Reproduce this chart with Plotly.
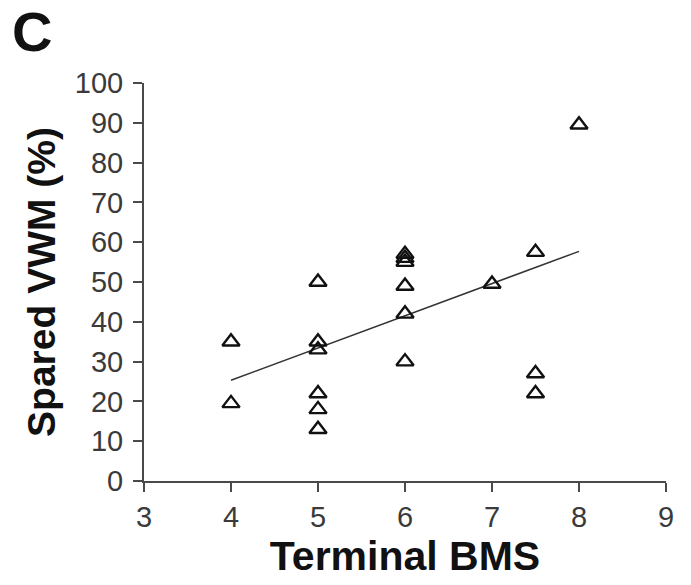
import plotly.graph_objects as go

# Data
bms = [4, 4, 5, 5, 5, 5, 5, 5, 6, 6, 6, 6, 6, 6, 7, 7.5, 7.5, 7.5, 8]
spared_vwm = [35, 19.5, 50, 35, 33, 22, 18, 13, 57, 56, 55, 49, 42, 30, 49.5, 57.5, 27, 22, 89.5]

trend_x = [4, 8]
trend_y = [25.3, 57.7]

x_ticks = [3, 4, 5, 6, 7, 8, 9]
y_ticks = [0, 10, 20, 30, 40, 50, 60, 70, 80, 90, 100]

fig = go.Figure()
fig.add_trace(go.Scatter(
    x=trend_x, y=trend_y, mode="lines",
    line=dict(color="#333333", width=1.5),
    showlegend=False, hoverinfo="skip",
))
fig.add_trace(go.Scatter(
    x=bms, y=spared_vwm, mode="markers",
    marker=dict(symbol="triangle-up-open", size=15,
                color="#111111", line=dict(width=2.4, color="#111111")),
    showlegend=False,
))

axis_common = dict(
    showgrid=False, zeroline=False, showline=True,
    linecolor="#4a4a4a", linewidth=2,
    ticks="outside", ticklen=9, tickwidth=2, tickcolor="#4a4a4a",
    tickfont=dict(family="Liberation Sans, Arial, sans-serif", size=29, color="#3a3a3a"),
)

fig.update_layout(
    width=691, height=585,
    margin=dict(l=144, r=25, t=83, b=104),
    plot_bgcolor="white", paper_bgcolor="white",
    font=dict(family="Liberation Sans, Arial, sans-serif", color="#111111"),
    xaxis=dict(range=[3, 9], tickvals=x_ticks, ticktext=[str(v) for v in x_ticks],
               title=dict(text="<b>Terminal BMS</b>", standoff=8,
                          font=dict(size=41, color="#111111")),
               **axis_common),
    yaxis=dict(range=[0, 100], tickvals=y_ticks, ticktext=[str(v) for v in y_ticks],
               ticklabelstandoff=4,
               title=dict(text="<b>Spared VWM (%)</b>", standoff=7,
                          font=dict(size=39, color="#111111")),
               **axis_common),
    annotations=[dict(
        text="<b>C</b>", x=-0.256, y=1.13, xref="paper", yref="paper",
        showarrow=False, xanchor="left", yanchor="middle",
        font=dict(size=56, color="#111111"),
    )],
)

fig.write_html("out.html")
